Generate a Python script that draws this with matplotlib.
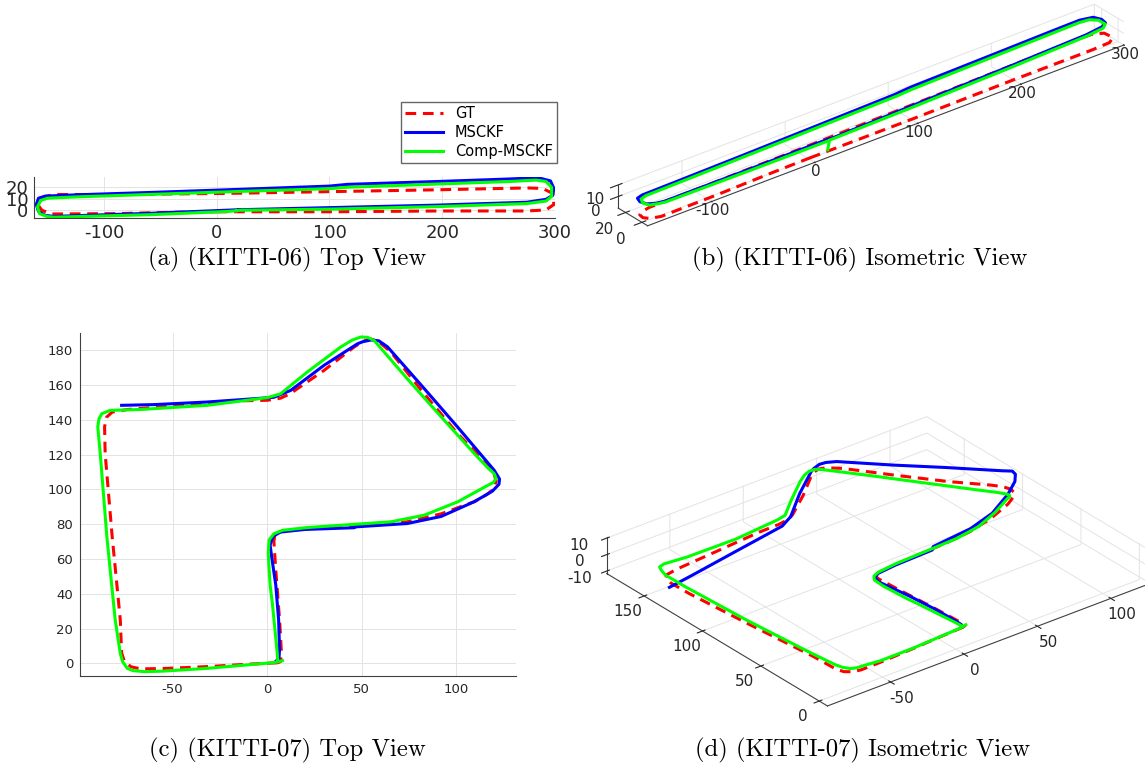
import matplotlib.pyplot as plt

W, H = 1145, 769

plt.rcParams["axes.unicode_minus"] = False
plt.rcParams["grid.color"] = "#e3e3e3"
plt.rcParams["grid.linewidth"] = 0.7

RED, BLUE, GREEN = "#ff0000", "#0000ff", "#00ff00"
TXT = "#262626"

# ---- KITTI-06 trajectories (x, y, z) ----
gt06_x = [0, 100, 196, 275, 292, 299, 298, 289, 275, 196, 101, 5, -90, -144, -152, -157, -158, -155, -146, -90, -40, 0]
gt06_y = [-1.3, -1.3, -0.6, -0.6, 0.3, 5, 14.6, 19.0, 19.4, 17.8, 16.2, 14.6, 13.7, 13.7, 12, 9, 4, 0, -3.2, -2.9, -1.8, -1.3]
gt06_z = [-8.5, -8.5, -8.3, -8.2, -8.2, -8.2, -8.2, -8.2, -8.2, -8.3, -8.5, -8.6, -8.8, -9, -9, -9, -9, -9, -9, -8.8, -8.6, -8.5]

msckf06_x = [20, 100, 196, 275, 292, 298, 299, 296, 285, 260, 196, 116, 100, 15, -58, -122, -152, -158, -160, -158, -152, -144, -58, 20]
msckf06_y = [0.5, 2.3, 4.5, 7, 9.5, 13, 19, 25.5, 28.3, 27.2, 25, 22.5, 21, 18, 15.5, 13.5, 12.3, 10.5, 5, -1, -4.5, -5.3, -2.6, 0.5]
msckf06_z = [0, 0.5, 1, 1.5, 1.5, 1.5, 1.5, 1.5, 1.5, 2, 2.5, 3, 3, 3.5, 4, 4.5, 5, 5, 5, 5, 5, 4.5, 2.5, 0.5]

comp06_x = [18, 20, 100, 196, 275, 292, 297, 297, 292, 283, 260, 196, 116, 100, 15, -58, -120, -150, -156, -159, -157, -150, -144, -58, 10, 18]
comp06_y = [-0.3, 0, 1, 3.2, 5.8, 8, 12, 20, 25, 26.2, 25, 22.8, 20, 18.8, 16.2, 13.8, 11.8, 10.5, 8.5, 3, -3, -5.5, -6, -3.8, -1, -0.3]
comp06_z = [-8, -0.5, 0, 0.5, 1, 1, 1, 1, 1, 1, 1.5, 2, 2.5, 2.5, 3, 3.5, 4, 4.5, 4.5, 4.5, 4.5, 4.5, 4, 2, 0, -0.5]

# ---- KITTI-07 trajectories (x, y, z) ----
gt07_x = [5.5, -10, -31.8, -55, -67, -72, -75.5, -77, -77.7, -82, -85.7, -86, -85, -82, -74, -49.5, -14, 0, 7, 12, 30, 46, 51, 55, 59, 65.4, 83, 100.7, 115, 119.5, 121, 120, 116, 109.5, 92, 74, 56.5, 21, 8, 4, 3.5, 4.5, 6.5, 7.5, 7, 5.5]
gt07_y = [0.3, -0.5, -1.9, -3, -3.2, -2, 1, 6, 25, 73, 120.6, 136, 141.5, 144.5, 146, 148, 151, 151.3, 152.5, 155, 168.5, 182, 185.5, 186.5, 185, 179, 155, 132, 116, 110, 105, 100.5, 97, 93, 86, 81.4, 79.5, 77.6, 76, 74, 70, 53.6, 25, 5.7, 1, 0.3]
gt07_z = [0, 0, 0, 0, 0, 0, 0, 0, 0, 0, 0, 0, 0, 0, 0, 0, 0, 0, 0, 0, 0, 0, 0, 0, 0, 0, 0, 0, 0, 0, 0, 0, 0, 0, 0, 0, 0, 0, 0, 0, 0, 0, 0, 0, 0, 0]

msckf07_x = [4.4, 6.2, 6.5, 6, 4.5, 2.5, 1.5, 3, 7, 20, 46, 47, 74, 92, 109.5, 119, 122.5, 122.8, 120, 100.7, 83, 63.6, 59, 55, 50.5, 47.7, 30, 12.4, 3.5, -31.8, -60, -77]
msckf07_y = [1, 3, 8, 25, 45, 60, 68, 73, 75.5, 77, 78, 78.5, 80.4, 84.5, 93, 99, 103, 106, 111, 135.8, 158, 182, 185.5, 186, 185, 183.8, 171.4, 157, 153, 150.3, 148.8, 148.4]
msckf07_z = [0, 0, 0, 0, 0, 0, 0, 0, 0, 0, 0, 1.5, 2.5, 4, 6, 8, 9.5, 10, 9, 7, 5, 3.5, 3, 3, 2.5, 2, 0, -2, -3, -6, -9, -11]

comp07_x = [8, 3.5, -31.8, -55, -65, -71, -74, -76.5, -77.7, -80.4, -84.8, -88.3, -89.6, -89, -87.5, -83, -67, -31.8, 0, 7, 21.2, 38.9, 45, 49.5, 53, 56.5, 74, 92, 109.5, 117, 120, 121, 119.5, 116.6, 100.7, 83, 65.4, 21.2, 8, 3.5, 1, 0.5, 1.5, 2.7, 5.3, 5.5]
comp07_y = [1.5, 0.4, -2.9, -4.5, -4.8, -4.2, -2.9, 1, 5.7, 25, 72.8, 120.6, 136, 140.5, 143.6, 145.5, 146, 148.4, 152.8, 155, 167.6, 182, 186, 187.7, 187.5, 185.7, 163.7, 141.7, 120.6, 112, 109, 106.3, 104, 102.4, 92.9, 85.2, 81.4, 78.1, 76.5, 74.5, 71, 63.2, 45, 34.5, 5.7, 2]
comp07_z = [0, 0, 1, 2, 3, 3, 3, 3, 3, 3.5, 4, 5, 6, 7, 7, 6.5, 5, 3, 2, 1.5, 0.5, 0, 0, 0, 0, -0.5, -1, -2, -3, -3.5, -4, -4, -3.5, -3, -2, -1.5, -1, 0, 0, 0, 0, 0, 0, 0, 0, 0]

labels = ["GT", "MSCKF", "Comp-MSCKF"]
captions = ["(a) (KITTI-06) Top View", "(b) (KITTI-06) Isometric View",
            "(c) (KITTI-07) Top View", "(d) (KITTI-07) Isometric View"]


def rect(x0, y0, x1, y1):
    return [x0 / W, 1 - y1 / H, (x1 - x0) / W, (y1 - y0) / H]


def square(cx, cy, side):
    return rect(cx - side / 2, cy - side / 2, cx + side / 2, cy + side / 2)


def draw_2d(ax, gt, ms, cp):
    l1, = ax.plot(gt[0], gt[1], color=RED, lw=2.2, ls=(0, (3.5, 2.2)), label=labels[0])
    l2, = ax.plot(ms[0], ms[1], color=BLUE, lw=2.2, label=labels[1])
    l3, = ax.plot(cp[0], cp[1], color=GREEN, lw=2.2, label=labels[2])
    ax.grid(True)
    for s in ("top", "right"):
        ax.spines[s].set_visible(False)
    for s in ("left", "bottom"):
        ax.spines[s].set_color("#404040")
        ax.spines[s].set_linewidth(0.8)
    ax.tick_params(colors=TXT, direction="in", length=0)
    return [l1, l2, l3]


def draw_3d(ax, gt, ms, cp, lims, ticks, fs):
    ax.patch.set_alpha(0)
    ax.plot(gt[0], gt[1], gt[2], color=RED, lw=2.2, ls=(0, (3.5, 2.2)), clip_on=False)
    ax.plot(ms[0], ms[1], ms[2], color=BLUE, lw=2.2, clip_on=False)
    ax.plot(cp[0], cp[1], cp[2], color=GREEN, lw=2.2, clip_on=False)
    ax.set_proj_type("ortho")
    ax.view_init(elev=28.5, azim=-128.5)
    ax.set_xlim(*lims[0])
    ax.set_ylim(*lims[1])
    ax.set_zlim(*lims[2])
    ax.set_box_aspect([l[1] - l[0] for l in lims])
    ax.set_xticks(ticks[0])
    ax.set_yticks(ticks[1])
    ax.set_zticks(ticks[2])
    for axis in (ax.xaxis, ax.yaxis, ax.zaxis):
        axis.set_pane_color((1, 1, 1, 0))
        axis.pane.set_edgecolor("#e3e3e3")
        axis.line.set_color("#404040")
        axis.line.set_linewidth(0.8)
    ax.tick_params(labelsize=fs, colors=TXT, pad=2)


fig = plt.figure(figsize=(W / 100, H / 100), dpi=100)

# (a)
ax_a = fig.add_axes(rect(34, 177, 555, 218))
handles = draw_2d(ax_a, (gt06_x, gt06_y), (msckf06_x, msckf06_y), (comp06_x, comp06_y))
ax_a.set_xlim(-162, 300)
ax_a.set_ylim(-6.7, 28.9)
ax_a.set_xticks([-100, 0, 100, 200, 300])
ax_a.set_yticks([0, 10, 20])
ax_a.tick_params(labelsize=13, pad=4)

fig.legend(handles, labels, loc="upper right", bbox_to_anchor=(557 / W, 1 - 102 / H),
           fontsize=10.5, frameon=True, fancybox=False, edgecolor="#404040",
           handlelength=2.6, borderpad=0.3, labelspacing=0.25, borderaxespad=0)

# (c)
ax_c = fig.add_axes(rect(80, 333, 516, 676))
draw_2d(ax_c, (gt07_x, gt07_y), (msckf07_x, msckf07_y), (comp07_x, comp07_y))
ax_c.set_xlim(-99, 131.5)
ax_c.set_ylim(-7.3, 190)
ax_c.set_xticks([-50, 0, 50, 100])
ax_c.set_yticks(range(0, 181, 20))
ax_c.tick_params(labelsize=9.5, pad=5)

# (b)
ax_b = fig.add_axes(square(863, 123, 593), projection="3d")
draw_3d(ax_b, (gt06_x, gt06_y, gt06_z), (msckf06_x, msckf06_y, msckf06_z),
        (comp06_x, comp06_y, comp06_z),
        [(-162, 300), (-7, 29), (-10, 10)],
        [[-100, 0, 100, 200, 300], [0, 20], [0, 10]], 11)

# (d)
ax_d = fig.add_axes(square(870, 568, 527), projection="3d")
draw_3d(ax_d, (gt07_x, gt07_y, gt07_z), (msckf07_x, msckf07_y, msckf07_z),
        (comp07_x, comp07_y, comp07_z),
        [(-93, 125), (-7, 182), (-11.5, 10.5)],
        [[-50, 0, 50, 100], [0, 50, 100, 150], [-10, 0, 10]], 11)

cap_pos = [(287, 259), (860, 259), (287, 750), (863, 750)]
for (cx, cy), txt in zip(cap_pos, captions):
    fig.text(cx / W, 1 - cy / H, txt, ha="center", va="center",
             fontfamily="cmr10", fontsize=17.8, color="black")

fig.savefig("out.png", dpi=100)
